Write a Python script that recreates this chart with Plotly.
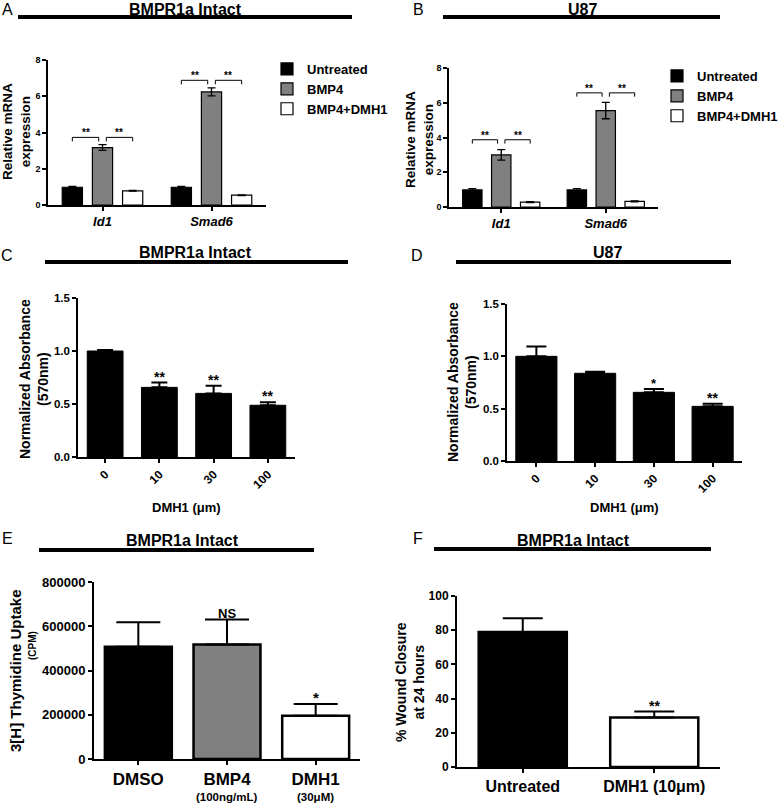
import plotly.graph_objects as go

W, H = 779, 807
FONT = "Liberation Sans"

# ---------------- data ----------------
genes = ["Id1", "Smad6"]
treatments = ["Untreated", "BMP4", "BMP4+DMH1"]
treat_colors = ["black", "#808080", "white"]

a_untreated = [0.98, 0.98]
a_untreated_err = [0.04, 0.04]
a_bmp4 = [3.17, 6.24]
a_bmp4_err = [0.16, 0.22]
a_dmh1 = [0.78, 0.54]
a_dmh1_err = [0.02, 0.02]
a_bracket_y = [3.73, 6.88]

b_untreated = [0.98, 0.98]
b_untreated_err = [0.07, 0.08]
b_bmp4 = [3.0, 5.55]
b_bmp4_err = [0.3, 0.47]
b_dmh1 = [0.28, 0.32]
b_dmh1_err = [0.03, 0.03]
b_bracket_y = [3.87, 6.57]

dose_labels = ["0", "10", "30", "100"]
c_vals = [1.0, 0.657, 0.60, 0.488]
c_err = [0.01, 0.045, 0.073, 0.028]
c_sig = ["", "**", "**", "**"]
d_vals = [1.0, 0.838, 0.656, 0.522]
d_err = [0.093, 0.015, 0.032, 0.025]
d_sig = ["", "", "*", "**"]

e_labels = ["DMSO", "BMP4", "DMH1"]
e_sublabels = ["", "(100ng/mL)", "(30μM)"]
e_vals = [507000, 518000, 196000]
e_err = [111000, 113000, 53000]
e_sig = ["", "NS", "*"]
e_colors = ["black", "#808080", "white"]

f_labels = ["Untreated", "DMH1 (10μm)"]
f_vals = [79, 29]
f_err = [8, 3.4]
f_sig = ["", "**"]
f_colors = ["black", "white"]

# ---------------- helpers ----------------
def X(p):
    return p / W


def Y(p):
    return 1 - p / H


def bold(size, **kw):
    return dict(family=FONT, size=size, color="black", weight="bold", **kw)


def yaxis(bottom, top, rng, dtick, size, anchor, fmt=None, lw=1.5):
    d = dict(domain=[Y(bottom), Y(top)], range=rng, dtick=dtick, tick0=0,
             showline=True, linecolor="black", linewidth=lw, ticks="outside",
             ticklen=4, tickwidth=lw, tickcolor="black", showgrid=False,
             zeroline=False, tickfont=bold(size), anchor=anchor, fixedrange=True)
    if fmt:
        d["tickformat"] = fmt
    return d


def xaxis(left, right, cats, ticktext, size, anchor, lw=1.5, angle=0):
    return dict(domain=[X(left), X(right)], type="category",
                range=[-0.5, len(cats) - 0.5], tickvals=list(range(len(cats))),
                ticktext=ticktext,
                showline=True, linecolor="black", linewidth=lw, ticks="outside",
                ticklen=4, tickwidth=lw, tickcolor="black", showgrid=False,
                zeroline=False, tickfont=bold(size), anchor=anchor,
                tickangle=angle, fixedrange=True)


fig = go.Figure()

BARGAP = 0.17
GROUPGAP = 0.33
slot = (1 - BARGAP) / 3

shapes = []
annotations = []

# ---------------- panels A, B ----------------
panelAB = [
    ("x", "y", "legend", [a_untreated, a_bmp4, a_dmh1],
     [a_untreated_err, a_bmp4_err, a_dmh1_err], a_bracket_y),
    ("x2", "y2", "legend2", [b_untreated, b_bmp4, b_dmh1],
     [b_untreated_err, b_bmp4_err, b_dmh1_err], b_bracket_y),
]
for xa, ya, leg, vals, errs, brk in panelAB:
    for name, col, v, e in zip(treatments, treat_colors, vals, errs):
        fig.add_trace(go.Bar(
            x=genes, y=v, name=name, xaxis=xa, yaxis=ya, legend=leg,
            marker=dict(color=col, line=dict(color="black", width=1.2)),
            error_y=dict(type="data", array=e, color="black", thickness=1.3, width=4),
            hoverinfo="skip"))
    for i, by in enumerate(brk):
        tick = 0.22
        gap = 0.035
        for x0, x1 in [(i - slot, i - gap), (i + gap, i + slot)]:
            for (sx0, sy0, sx1, sy1) in [(x0, by, x1, by), (x0, by, x0, by - tick),
                                         (x1, by, x1, by - tick)]:
                shapes.append(dict(type="line", xref=xa, yref=ya, x0=sx0, y0=sy0,
                                   x1=sx1, y1=sy1, line=dict(color="black", width=1)))
            annotations.append(dict(xref=xa, yref=ya, x=(x0 + x1) / 2, y=by, text="**",
                                    showarrow=False, yanchor="bottom", yshift=-3,
                                    font=bold(10)))

# ---------------- panels C, D ----------------
for xa, ya, vals, errs, sig, cap, width in [("x3", "y3", c_vals, c_err, c_sig, 8, 0.66),
                                            ("x4", "y4", d_vals, d_err, d_sig, 10, 0.70)]:
    fig.add_trace(go.Bar(
        x=dose_labels, y=vals, xaxis=xa, yaxis=ya, showlegend=False, width=width,
        marker=dict(color="black", line=dict(color="black", width=1)),
        error_y=dict(type="data", symmetric=False, array=errs,
                     arrayminus=[0] * len(vals), color="black", thickness=2, width=cap),
        hoverinfo="skip"))
    for i, s in enumerate(sig):
        if s:
            annotations.append(dict(xref=xa, yref=ya, x=i, y=vals[i] + errs[i],
                                    text=s, showarrow=False, yanchor="bottom", yshift=-4,
                                    font=bold(14 if s == "**" else 13)))

# ---------------- panel E ----------------
fig.add_trace(go.Bar(
    x=e_labels, y=e_vals, xaxis="x5", yaxis="y5", showlegend=False, width=0.755,
    marker=dict(color=e_colors, line=dict(color="black", width=2.5)),
    error_y=dict(type="data", symmetric=False, array=e_err, arrayminus=[0] * 3,
                 color="black", thickness=2, width=22),
    hoverinfo="skip"))
for i, s in enumerate(e_sig):
    if s:
        annotations.append(dict(xref="x5", yref="y5", x=i, y=e_vals[i] + e_err[i],
                                text=s, showarrow=False, yanchor="bottom", yshift=-4,
                                font=bold(13 if s == "NS" else 15)))
for i, s in enumerate(e_sublabels):
    if s:
        annotations.append(dict(xref="x5", yref="paper", x=i, y=Y(797), text=s,
                                showarrow=False, xanchor="center", yanchor="middle",
                                font=bold(11.5)))

# ---------------- panel F ----------------
fig.add_trace(go.Bar(
    x=f_labels, y=f_vals, xaxis="x6", yaxis="y6", showlegend=False, width=0.67,
    marker=dict(color=f_colors, line=dict(color="black", width=2.5)),
    error_y=dict(type="data", symmetric=False, array=f_err, arrayminus=[0] * 2,
                 color="black", thickness=2, width=20),
    hoverinfo="skip"))
for i, s in enumerate(f_sig):
    if s:
        annotations.append(dict(xref="x6", yref="y6", x=i, y=f_vals[i] + f_err[i],
                                text=s, showarrow=False, yanchor="bottom", yshift=-4,
                                font=bold(14)))

# ---------------- panel headers ----------------
headers = [
    ("A", 7, 10, "BMPR1a Intact", 185, 9.5, 18, 352, 17),
    ("B", 418, 10, "U87", 582, 9.5, 443, 720, 17),
    ("C", 7, 255, "BMPR1a Intact", 195, 253, 45, 348, 262),
    ("D", 417, 255, "U87", 607, 253, 456, 731, 262),
    ("E", 7, 538, "BMPR1a Intact", 182, 540, 39, 314, 550),
    ("F", 418, 538, "BMPR1a Intact", 573, 540, 434, 711, 549),
]
for let, lx, ly, title, tx, ty, l0, l1, lyy in headers:
    annotations.append(dict(xref="paper", yref="paper", x=X(lx), y=Y(ly), text=let,
                            showarrow=False, xanchor="center", yanchor="middle",
                            font=dict(family=FONT, size=16, color="black")))
    annotations.append(dict(xref="paper", yref="paper", x=X(tx), y=Y(ty), text=title,
                            showarrow=False, xanchor="center", yanchor="middle",
                            font=bold(16)))
    shapes.append(dict(type="line", xref="paper", yref="paper", x0=X(l0), x1=X(l1),
                       y0=Y(lyy), y1=Y(lyy), line=dict(color="black", width=4)))

# ---------------- axis titles ----------------
ytitles = [
    ("Relative mRNA<br>expression", 17, 132, 13.5),
    ("Relative mRNA<br>expression", 420, 140, 13.5),
    ("Normalized Absorbance<br>(570nm)", 34, 379, 14),
    ("Normalized Absorbance<br>(570nm)", 462, 382, 14),
    ("3[H] Thymidine Uptake", 15, 671, 15),
    ("(CPM)", 32, 645, 10),
    ("% Wound Closure<br>at 24 hours", 410, 682, 14),
]
for txt, x, y, sz in ytitles:
    annotations.append(dict(xref="paper", yref="paper", x=X(x), y=Y(y), text=txt,
                            showarrow=False, textangle=-90, xanchor="center",
                            yanchor="middle", font=bold(sz)))
for x, y in [(186, 507), (624, 507)]:
    annotations.append(dict(xref="paper", yref="paper", x=X(x), y=Y(y), text="DMH1 (μm)",
                            showarrow=False, xanchor="center", yanchor="middle",
                            font=bold(13)))

gene_text = ["<i>" + g + "</i>" for g in genes]

legend_common = dict(xanchor="left", yanchor="top", font=bold(13),
                     bgcolor="rgba(0,0,0,0)", borderwidth=0, traceorder="normal",
                     tracegroupgap=0)

fig.update_layout(
    width=W, height=H, margin=dict(l=0, r=0, t=0, b=0, autoexpand=False),
    plot_bgcolor="white", paper_bgcolor="white",
    barmode="group", bargap=BARGAP, bargroupgap=GROUPGAP,
    xaxis=xaxis(48, 266, genes, gene_text, 13, "y"),
    yaxis=yaxis(205, 60, [0, 8], 2, 9, "x"),
    xaxis2=xaxis(449, 658, genes, gene_text, 13, "y2"),
    yaxis2=yaxis(207, 68, [0, 8], 2, 9, "x2"),
    xaxis3=xaxis(78, 295, dose_labels, dose_labels, 12, "y3", angle=-45),
    yaxis3=yaxis(457, 298, [0, 1.5], 0.5, 11.5, "x3", fmt=".1f"),
    xaxis4=xaxis(507, 742, dose_labels, dose_labels, 12, "y4", angle=-45),
    yaxis4=yaxis(461, 304, [0, 1.5], 0.5, 11.5, "x4", fmt=".1f"),
    xaxis5=xaxis(94, 360, e_labels, e_labels, 17, "y5", lw=2),
    yaxis5=yaxis(759, 582, [0, 800000], 200000, 13, "x5", fmt="d", lw=2),
    xaxis6=xaxis(457, 720, f_labels, f_labels, 16, "y6", lw=2),
    yaxis6=yaxis(767, 596, [0, 100], 20, 12, "x6", lw=2),
    legend=dict(x=X(267), y=Y(54), **legend_common),
    legend2=dict(x=X(657), y=Y(61), **legend_common),
    shapes=shapes, annotations=annotations,
)

fig.write_html("out.html", config={"displayModeBar": False},
               post_script="document.body.style.margin='0px';"
                           "document.body.style.overflow='hidden';")
